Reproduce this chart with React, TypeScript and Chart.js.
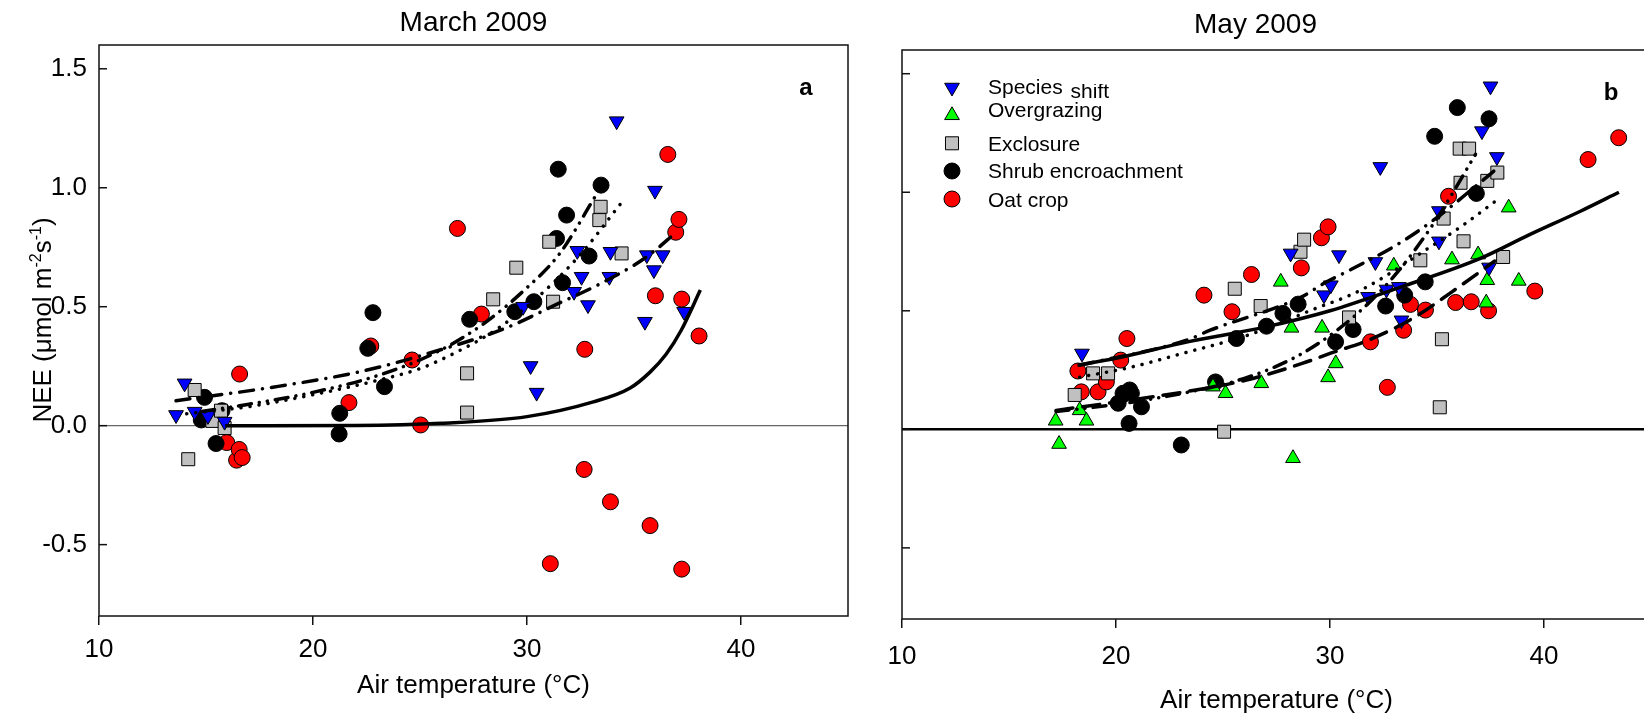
import React, { useEffect, useRef } from "react";
import { Chart, registerables } from "chart.js";
import { drawPoint } from "chart.js/helpers";

Chart.register(...registerables);

const FONT = "'Liberation Sans', Arial, Helvetica, sans-serif";

// ---------- axes ----------
const X_MIN = 10;
const X_MAX = 45;
const Y_MIN = -0.8;
const Y_MAX = 1.6;
const X_TICKS = [10, 20, 30, 40];
const Y_TICKS = [-0.5, 0, 0.5, 1.0, 1.5];
const Y_TICK_LABELS = ["-0.5", "0.0", "0.5", "1.0", "1.5"];

const SERIES = ["Species shift", "Overgrazing", "Exclosure", "Shrub encroachment", "Oat crop"];

// ---------- March 2009 (panel a) ----------
const marSpeciesT = [13.6, 14.0, 14.47, 15.09, 15.87, 29.82, 30.17, 30.45, 32.2, 32.35, 32.55, 32.85, 33.85, 33.9, 34.19, 35.51, 35.6, 35.93, 35.98, 36.34, 37.34];
const marSpeciesNEE = [0.045, 0.178, 0.059, 0.041, 0.017, 0.5, 0.251, 0.139, 0.563, 0.735, 0.626, 0.507, 0.626, 0.731, 1.28, 0.437, 0.717, 0.654, 0.988, 0.717, 0.479];
const marExclT = [14.17, 14.47, 15.3, 15.7, 15.87, 27.2, 27.2, 28.42, 29.5, 31.04, 31.22, 33.38, 33.44, 34.42];
const marExclNEE = [-0.141, 0.15, 0.02, 0.063, -0.01, 0.22, 0.055, 0.531, 0.664, 0.773, 0.521, 0.864, 0.92, 0.724];
const marShrubT = [14.78, 14.93, 15.47, 15.75, 21.22, 21.25, 22.56, 22.8, 23.34, 27.32, 29.43, 30.32, 31.38, 31.46, 31.66, 31.85, 32.9, 33.46];
const marShrubNEE = [0.024, 0.119, -0.075, 0.063, -0.035, 0.052, 0.325, 0.475, 0.164, 0.447, 0.479, 0.521, 0.787, 1.078, 0.601, 0.885, 0.713, 1.011];
const marOatT = [15.97, 16.43, 16.55, 16.57, 16.69, 21.68, 22.7, 24.63, 25.03, 26.75, 27.87, 31.09, 32.67, 32.7, 33.9, 35.75, 36.0, 36.58, 36.95, 37.1, 37.23, 37.23, 38.04];
const marOatNEE = [-0.071, -0.145, -0.1, 0.217, -0.134, 0.097, 0.335, 0.276, 0.003, 0.829, 0.469, -0.58, -0.184, 0.321, -0.32, -0.42, 0.546, 1.14, 0.813, 0.867, 0.532, -0.603, 0.377];

// fitted curves, March
const marFitSpeciesT = [13.6, 18, 22.2, 26, 29, 31.5, 33.5, 35.6, 37];
const marFitSpeciesNEE = [0.105, 0.16, 0.227, 0.32, 0.41, 0.515, 0.6, 0.71, 0.815];
const marFitShrubT = [14.8, 17, 20, 23, 25.8, 28, 30, 31.5, 33.3];
const marFitShrubNEE = [0.06, 0.09, 0.14, 0.21, 0.31, 0.43, 0.58, 0.72, 0.98];
const marFitExclT = [14.1, 17, 20, 23, 25, 26.5, 28.5, 30.5, 32.5, 34.35];
const marFitExclNEE = [0.05, 0.08, 0.13, 0.19, 0.24, 0.3, 0.4, 0.54, 0.72, 0.93];
const marFitOatT = [15.9, 22, 26, 30, 33.1, 34.8, 35.75, 36.5, 37.2, 38.1];
const marFitOatNEE = [0, 0.001, 0.01, 0.038, 0.1, 0.157, 0.225, 0.3, 0.4, 0.57];

// ---------- May 2009 (panel b) ----------
const maySpeciesT = [18.41, 28.16, 29.72, 30.04, 30.42, 31.78, 32.12, 32.35, 32.64, 33.22, 33.34, 35.09, 35.09, 37.1, 37.43, 37.5, 37.8];
const maySpeciesNEE = [0.32, 0.742, 0.566, 0.608, 0.735, 0.559, 0.706, 1.107, 0.59, 0.601, 0.46, 0.921, 0.793, 1.258, 0.683, 1.447, 1.149];
const mayGrazeT = [17.18, 17.34, 18.3, 18.62, 24.53, 25.12, 26.79, 27.7, 28.2, 28.27, 29.63, 29.91, 30.27, 32.98, 35.7, 36.92, 37.3, 37.35, 38.35, 38.82];
const mayGrazeNEE = [0.036, -0.062, 0.08, 0.036, 0.18, 0.152, 0.194, 0.622, 0.428, -0.122, 0.428, 0.219, 0.278, 0.69, 0.716, 0.737, 0.534, 0.629, 0.935, 0.626];
const mayExclT = [18.07, 18.93, 19.63, 25.05, 25.55, 26.76, 28.62, 28.79, 30.89, 34.22, 35.13, 35.23, 35.31, 36.06, 36.1, 36.24, 36.5, 37.35, 37.82, 38.09];
const mayExclNEE = [0.145, 0.236, 0.236, -0.01, 0.593, 0.52, 0.749, 0.8, 0.472, 0.713, 0.093, 0.38, 0.889, 1.184, 1.04, 0.793, 1.184, 1.048, 1.083, 0.727];
const mayShrubT = [20.1, 20.33, 20.61, 20.64, 20.72, 21.19, 23.05, 24.65, 25.63, 27.03, 27.8, 28.51, 30.26, 31.08, 32.6, 33.49, 34.45, 34.89, 35.95, 36.84, 37.43];
const mayShrubNEE = [0.11, 0.152, 0.025, 0.166, 0.152, 0.095, -0.066, 0.2, 0.383, 0.435, 0.489, 0.528, 0.369, 0.421, 0.52, 0.566, 0.622, 1.236, 1.357, 0.995, 1.31];
const mayOatT = [18.22, 18.38, 19.16, 19.55, 20.22, 20.51, 24.11, 25.42, 26.33, 28.66, 29.6, 29.91, 31.89, 32.68, 33.44, 33.76, 34.46, 35.54, 35.87, 36.6, 37.41, 39.57, 42.06, 43.49];
const mayOatNEE = [0.246, 0.158, 0.158, 0.2, 0.292, 0.383, 0.566, 0.496, 0.653, 0.681, 0.808, 0.854, 0.369, 0.177, 0.418, 0.527, 0.503, 0.983, 0.535, 0.538, 0.5, 0.583, 1.138, 1.23];

// fitted curves, May
const mayFitOatT = [18.2, 20, 23.4, 27, 30, 33.3, 37, 39.3, 41.7, 43.5];
const mayFitOatNEE = [0.27, 0.3, 0.37, 0.432, 0.5, 0.6, 0.72, 0.82, 0.92, 1.0];
const mayFitSpeciesT = [18.3, 23.3, 24.4, 28.7, 29.7, 31, 33.1, 34.8, 37.0, 37.8];
const mayFitSpeciesNEE = [0.27, 0.376, 0.418, 0.56, 0.615, 0.675, 0.777, 0.88, 1.04, 1.1];
const mayFitShrubT = [18.3, 20.6, 23.1, 26.25, 29.05, 31.5, 34.7, 36.2, 37.7];
const mayFitShrubNEE = [0.22, 0.26, 0.32, 0.4, 0.5, 0.59, 0.77, 0.86, 0.96];
const mayFitGrazeT = [17.2, 20, 23, 26.1, 28.7, 30, 31.9, 33.9, 35.7, 37.7];
const mayFitGrazeNEE = [0.08, 0.115, 0.155, 0.208, 0.278, 0.32, 0.38, 0.47, 0.58, 0.71];
const mayFitExclT = [17.2, 20, 23, 26, 28.5, 30.5, 32, 33.4, 35, 36.8];
const mayFitExclNEE = [0.075, 0.105, 0.15, 0.215, 0.31, 0.43, 0.55, 0.69, 0.89, 1.16];

// ---------- styles ----------
const MARKERS: Record<string, any> = {
  "Species shift": { pointStyle: "triangle", rotation: 180, color: "#0000ff", radius: 8.5 },
  "Overgrazing": { pointStyle: "triangle", rotation: 0, color: "#00ff00", radius: 8.5 },
  "Exclosure": { pointStyle: "rect", rotation: 0, color: "#c0c0c0", radius: 9.2 },
  "Shrub encroachment": { pointStyle: "circle", rotation: 0, color: "#000000", radius: 8 },
  "Oat crop": { pointStyle: "circle", rotation: 0, color: "#ff0000", radius: 8 },
};
const DASHES: Record<string, number[]> = {
  solid: [],
  dashDot: [14, 9, 0.1, 9],
  dashDotDot: [13, 8, 0.1, 8, 0.1, 8],
  dotted: [0.1, 9],
  longDash: [17, 10],
};

function pts(xs: number[], ys: number[]) {
  return xs.map((x, i) => ({ x, y: ys[i] }));
}

function scatterSet(name: string, xs: number[], ys: number[]) {
  const m = MARKERS[name];
  return {
    type: "scatter",
    label: name,
    data: pts(xs, ys),
    showLine: false,
    pointStyle: m.pointStyle,
    pointRotation: m.rotation,
    pointRadius: m.radius,
    pointHoverRadius: m.radius,
    pointBackgroundColor: m.color,
    pointBorderColor: "#000",
    pointBorderWidth: 1,
    order: 2,
  };
}

function fitSet(xs: number[], ys: number[], dash: string) {
  return {
    type: "line",
    data: pts(xs, ys),
    borderColor: "#000",
    borderWidth: 3.5,
    borderDash: DASHES[dash],
    borderCapStyle: dash === "solid" ? "butt" : "round",
    pointRadius: 0,
    pointHoverRadius: 0,
    fill: false,
    tension: 0.4,
    cubicInterpolationMode: "monotone",
    order: 0,
  };
}

function drawYTitle(ctx: CanvasRenderingContext2D, cx: number, cy: number) {
  const parts: [string, boolean][] = [
    ["NEE (\u03bcmol m", false],
    ["-2", true],
    ["s", false],
    ["-1", true],
    [")", false],
  ];
  const big = `26px ${FONT}`;
  const small = `16px ${FONT}`;
  let total = 0;
  parts.forEach(([t, sup]) => {
    ctx.font = sup ? small : big;
    total += ctx.measureText(t).width;
  });
  ctx.save();
  ctx.translate(cx, cy);
  ctx.rotate(-Math.PI / 2);
  ctx.fillStyle = "#000";
  ctx.textBaseline = "alphabetic";
  ctx.textAlign = "left";
  let x = -total / 2;
  parts.forEach(([t, sup]) => {
    ctx.font = sup ? small : big;
    ctx.fillText(t, x, sup ? -1 : 9);
    x += ctx.measureText(t).width;
  });
  ctx.restore();
}

function makeDecor(spec: any) {
  return {
    id: "decor" + spec.key,
    afterDraw(chart: any) {
      const { ctx, chartArea: a } = chart;
      const y = chart.scales.y;
      ctx.save();
      ctx.strokeStyle = "#111";
      ctx.lineWidth = 1.5;
      Y_TICKS.forEach((v) => {
        const py = y.getPixelForValue(v);
        ctx.beginPath();
        ctx.moveTo(a.left, py);
        ctx.lineTo(a.left + 8, py);
        ctx.stroke();
      });
      ctx.strokeRect(a.left, a.top, a.right - a.left, a.bottom - a.top);

      const cx = (a.left + a.right) / 2;
      ctx.fillStyle = "#000";
      ctx.textBaseline = "alphabetic";
      ctx.textAlign = "center";
      ctx.font = `28px ${FONT}`;
      ctx.fillText(spec.title, cx + spec.titleDx, spec.titleBase);
      ctx.font = `26px ${FONT}`;
      ctx.fillText("Air temperature (\u00b0C)", cx, spec.xTitleBase);
      ctx.font = `bold 24px ${FONT}`;
      ctx.fillText(spec.letter, a.right + spec.letterDx, a.top + 50);

      if (spec.yTitle) drawYTitle(ctx, spec.yTitleX, spec.yTitleY);

      if (spec.legend) {
        const lx = a.left + 50;
        const tx = a.left + 86;
        const rows = [
          { name: "Species shift", my: 87.5, base: 94.3 },
          { name: "Overgrazing", my: 115.3, base: 116.7 },
          { name: "Exclosure", my: 143.3, base: 150.7 },
          { name: "Shrub encroachment", my: 171, base: 178.3 },
          { name: "Oat crop", my: 199, base: 206.7 },
        ];
        ctx.textAlign = "left";
        ctx.font = `21px ${FONT}`;
        rows.forEach((r) => {
          const m = MARKERS[r.name];
          ctx.fillStyle = m.color;
          ctx.strokeStyle = "#000";
          ctx.lineWidth = 1;
          drawPoint(ctx, { pointStyle: m.pointStyle, rotation: m.rotation, radius: m.radius, borderWidth: 1 }, lx, r.my);
          ctx.fillStyle = "#000";
          if (r.name === "Species shift") {
            ctx.fillText("Species", tx, r.base);
            const w = ctx.measureText("Species ").width;
            ctx.save();
            ctx.beginPath();
            ctx.rect(tx + w - 2, 84, 120, 40);
            ctx.clip();
            ctx.fillText("shift", tx + w + 2, r.base + 3.5);
            ctx.restore();
          } else {
            ctx.fillText(r.name, tx, r.base);
          }
        });
      }
      ctx.restore();
    },
  };
}

function buildConfig(spec: any) {
  const font = { family: FONT, size: 26 };
  return {
    type: "scatter",
    data: { datasets: spec.datasets },
    options: {
      responsive: false,
      animation: false,
      devicePixelRatio: 1,
      events: [],
      layout: { padding: { left: 0, right: spec.padR, top: spec.padT, bottom: 0 } },
      plugins: { legend: { display: false }, tooltip: { enabled: false }, title: { display: false } },
      scales: {
        x: {
          type: "linear",
          min: X_MIN,
          max: X_MAX,
          afterBuildTicks: (s: any) => {
            s.ticks = X_TICKS.map((v) => ({ value: v }));
          },
          afterFit: (s: any) => {
            s.height = spec.xH;
          },
          border: { display: false },
          grid: { drawOnChartArea: false, drawTicks: true, tickLength: 9, color: "#111", lineWidth: 1.5 },
          ticks: { font, color: "#000", padding: spec.xPad, maxRotation: 0, autoSkip: false, callback: (v: any) => String(v) },
        },
        y: {
          type: "linear",
          min: Y_MIN,
          max: Y_MAX,
          afterBuildTicks: (s: any) => {
            s.ticks = Y_TICKS.map((v) => ({ value: v }));
          },
          afterFit: (s: any) => {
            s.width = spec.yW;
          },
          border: { display: false },
          grid: {
            drawTicks: false,
            drawOnChartArea: true,
            color: (c: any) => (c.tick && c.tick.value === 0 ? spec.zeroColor : "rgba(0,0,0,0)"),
            lineWidth: spec.zeroWidth,
          },
          ticks: {
            display: spec.yLabels,
            font,
            color: "#000",
            padding: 12,
            autoSkip: false,
            callback: (v: any) => Y_TICK_LABELS[Y_TICKS.indexOf(v)],
          },
        },
      },
    },
    plugins: [makeDecor(spec)],
  };
}

const PANEL_A = {
  key: "a",
  left: 0,
  w: 880,
  yW: 99,
  padR: 32,
  padT: 45,
  xH: 99,
  xPad: 9,
  zeroColor: "#666",
  zeroWidth: 1.2,
  yLabels: true,
  title: "March 2009",
  titleDx: 0,
  titleBase: 31,
  xTitleBase: 693,
  letter: "a",
  letterDx: -42,
  yTitle: true,
  yTitleX: 42,
  yTitleY: 320,
  legend: false,
  datasets: [
    fitSet(marFitOatT, marFitOatNEE, "solid"),
    fitSet(marFitSpeciesT, marFitSpeciesNEE, "dashDot"),
    fitSet(marFitShrubT, marFitShrubNEE, "dashDotDot"),
    fitSet(marFitExclT, marFitExclNEE, "dotted"),
    scatterSet(SERIES[0], marSpeciesT, marSpeciesNEE),
    scatterSet(SERIES[2], marExclT, marExclNEE),
    scatterSet(SERIES[3], marShrubT, marShrubNEE),
    scatterSet(SERIES[4], marOatT, marOatNEE),
  ],
};

const PANEL_B = {
  key: "b",
  left: 860,
  w: 820,
  yW: 42,
  padR: 29,
  padT: 50,
  xH: 96,
  xPad: 13,
  zeroColor: "#000",
  zeroWidth: 2.5,
  yLabels: false,
  title: "May 2009",
  titleDx: -21,
  titleBase: 33,
  xTitleBase: 708,
  letter: "b",
  letterDx: -40,
  yTitle: false,
  legend: true,
  datasets: [
    fitSet(mayFitOatT, mayFitOatNEE, "solid"),
    fitSet(mayFitSpeciesT, mayFitSpeciesNEE, "dashDot"),
    fitSet(mayFitShrubT, mayFitShrubNEE, "dotted"),
    fitSet(mayFitGrazeT, mayFitGrazeNEE, "longDash"),
    fitSet(mayFitExclT, mayFitExclNEE, "dashDotDot"),
    scatterSet(SERIES[0], maySpeciesT, maySpeciesNEE),
    scatterSet(SERIES[1], mayGrazeT, mayGrazeNEE),
    scatterSet(SERIES[2], mayExclT, mayExclNEE),
    scatterSet(SERIES[3], mayShrubT, mayShrubNEE),
    scatterSet(SERIES[4], mayOatT, mayOatNEE),
  ],
};

function Panel({ spec }: { spec: any }) {
  const ref = useRef<HTMLCanvasElement>(null);
  useEffect(() => {
    const chart = new Chart(ref.current as HTMLCanvasElement, buildConfig(spec) as any);
    return () => chart.destroy();
  }, [spec]);
  return (
    <canvas
      ref={ref}
      width={spec.w}
      height={715}
      style={{ position: "absolute", left: spec.left, top: 0, width: spec.w, height: 715 }}
    />
  );
}

export default function App() {
  return (
    <div
      style={{
        position: "absolute",
        left: 0,
        top: 0,
        width: 1644,
        height: 715,
        overflow: "hidden",
        background: "#fff",
      }}
    >
      <Panel spec={PANEL_A} />
      <Panel spec={PANEL_B} />
    </div>
  );
}
